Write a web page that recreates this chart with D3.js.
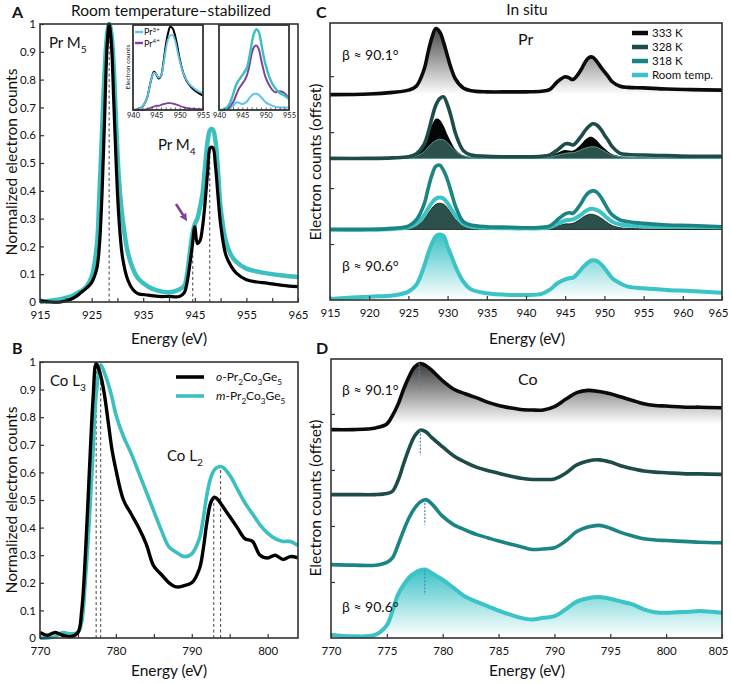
<!DOCTYPE html>
<html>
<head>
<meta charset="utf-8">
<script src="https://cdn.jsdelivr.net/npm/d3@7"></script>
<style>
body { margin: 0; background: #fff; }
svg text { font-family: Lato, "Open Sans", sans-serif; fill: #111; }
</style>
</head>
<body>
<script>

// ================================================================================================
// Data

// Panel A: Pr M5,4 edge, room temperature stabilized phases
var aE = [915, 917, 919, 921, 922, 923, 924, 925, 926, 926.5, 927, 927.5, 928, 928.4, 928.8, 929.3, 929.8, 930.3, 931, 932,
    933, 934, 936, 938, 940, 942, 943, 943.5, 944, 944.5, 945, 945.5, 946, 946.5, 947, 947.5, 948, 948.5, 949, 949.5,
    950, 951, 952, 953, 955, 957, 959, 962, 965];
var aOrtho = [0.005, 0, 0, 0.01, 0.02, 0.035, 0.05, 0.07, 0.12, 0.2, 0.38, 0.65, 0.92, 1.0, 0.94, 0.72, 0.48, 0.3, 0.16, 0.08,
    0.045, 0.03, 0.025, 0.02, 0.02, 0.02, 0.035, 0.07, 0.13, 0.2, 0.27, 0.21, 0.22, 0.27, 0.36, 0.47, 0.555, 0.555, 0.49, 0.38,
    0.28, 0.17, 0.13, 0.105, 0.08, 0.072, 0.068, 0.06, 0.055];
var aMono = [0, 0.005, 0.01, 0.02, 0.03, 0.04, 0.055, 0.09, 0.2, 0.38, 0.6, 0.82, 0.96, 1.0, 0.97, 0.84, 0.62, 0.44, 0.3, 0.18,
    0.12, 0.085, 0.055, 0.04, 0.035, 0.045, 0.06, 0.1, 0.17, 0.24, 0.28, 0.3, 0.34, 0.39, 0.49, 0.58, 0.62, 0.62, 0.58, 0.47,
    0.34, 0.22, 0.17, 0.145, 0.12, 0.11, 0.103, 0.095, 0.09];
var aMarkE = [928.4, 944.6, 947.9];
var aMarkV = [1.0, 0.2, 0.555];
var aTicks = [915, 920, 925, 930, 935, 940, 945, 950, 955, 960, 965];
var aLabels = [915, 925, 935, 945, 955, 965];

// Panel A insets
var iE = [940, 941, 942, 943, 943.5, 944, 944.5, 945, 945.5, 946, 946.5, 947, 947.5, 948, 948.5, 949, 949.5, 950, 951, 952,
    953, 954, 955];
var i1Ortho = [0, 0.01, 0.04, 0.14, 0.26, 0.38, 0.45, 0.42, 0.37, 0.4, 0.55, 0.75, 0.9, 0.98, 0.96, 0.88, 0.75, 0.6, 0.4, 0.3,
    0.24, 0.2, 0.17];
var i1Pr3 = [0, 0.01, 0.04, 0.14, 0.26, 0.38, 0.44, 0.42, 0.38, 0.4, 0.53, 0.7, 0.83, 0.88, 0.88, 0.82, 0.7, 0.58, 0.4, 0.31,
    0.26, 0.22, 0.2];
var i1Pr4 = [0, 0, 0, 0.01, 0.02, 0.03, 0.04, 0.05, 0.05, 0.06, 0.07, 0.075, 0.08, 0.08, 0.075, 0.07, 0.06, 0.05, 0.03, 0.02,
    0.015, 0.01, 0.01];
var i2Mono = [0, 0.005, 0.05, 0.18, 0.27, 0.33, 0.37, 0.41, 0.45, 0.5, 0.62, 0.78, 0.9, 0.95, 0.92, 0.8, 0.65, 0.53, 0.36, 0.26,
    0.2, 0.17, 0.13];
var i2Pr4 = [0, 0, 0.02, 0.09, 0.15, 0.22, 0.27, 0.31, 0.35, 0.41, 0.52, 0.66, 0.74, 0.76, 0.72, 0.6, 0.48, 0.38, 0.27, 0.21,
    0.22, 0.2, 0.13];
var i2Pr3 = [0, 0, 0.01, 0.05, 0.08, 0.09, 0.08, 0.07, 0.08, 0.1, 0.14, 0.17, 0.19, 0.19, 0.18, 0.15, 0.12, 0.09, 0.06, 0.04,
    0.03, 0.03, 0.03];
var iLabels = [940, 945, 950, 955];

// Panel B: Co L3,2 edge
var bE = [770, 771, 772, 773, 774, 775, 775.5, 776, 776.5, 777, 777.4, 778, 778.5, 779, 779.5, 780, 781, 782, 783, 784,
    785, 786, 787, 788, 789, 790, 791, 791.5, 792, 792.5, 793, 793.5, 794, 795, 796, 797, 798, 799, 800, 801,
    802, 803, 804];
var bOrtho = [0.02, 0.01, 0.02, 0.01, 0.005, 0.02, 0.1, 0.31, 0.6, 0.87, 0.995, 0.95, 0.88, 0.78, 0.68, 0.61, 0.5, 0.45, 0.4, 0.34,
    0.26, 0.23, 0.2, 0.185, 0.19, 0.2, 0.25, 0.32, 0.42, 0.49, 0.51, 0.5, 0.48, 0.44, 0.4, 0.36, 0.35, 0.3, 0.29, 0.3,
    0.285, 0.295, 0.29];
var bMono = [0, 0, 0.005, 0.02, 0.015, 0.02, 0.06, 0.22, 0.43, 0.68, 0.88, 0.99, 0.96, 0.92, 0.87, 0.81, 0.73, 0.67, 0.6, 0.53,
    0.46, 0.39, 0.33, 0.31, 0.295, 0.305, 0.36, 0.43, 0.52, 0.58, 0.61, 0.62, 0.62, 0.59, 0.54, 0.49, 0.45, 0.41, 0.38, 0.36,
    0.35, 0.35, 0.335];
var bMarkE = [777.4, 778.0, 792.9, 793.8];
var bMarkV = [0.995, 0.99, 0.51, 0.62];
var bTicks = [770, 775, 780, 785, 790, 795, 800];
var bLabels = [770, 780, 790, 800];

// Panel C: in situ Pr edge, one trace per temperature (height above its own offset)
var cE = [915, 920, 923, 925, 926, 927, 927.5, 928, 928.5, 929, 929.5, 930, 930.5, 931, 932, 933, 935, 938, 940, 942,
    943, 944, 945, 945.5, 946, 947, 947.5, 948, 948.5, 949, 949.5, 950, 950.5, 951, 952, 953, 955, 958, 961, 965];
var c333 = [0, 0.01, 0.04, 0.08, 0.15, 0.45, 0.75, 1.02, 1.18, 1.12, 0.93, 0.68, 0.45, 0.28, 0.12, 0.07, 0.05, 0.05, 0.05, 0.06,
    0.09, 0.23, 0.32, 0.3, 0.27, 0.44, 0.57, 0.66, 0.67, 0.6, 0.5, 0.41, 0.32, 0.23, 0.15, 0.13, 0.12, 0.1, 0.09, 0.08];
var c328 = [0, 0, 0.01, 0.03, 0.08, 0.25, 0.45, 0.72, 0.95, 1.07, 1.1, 0.95, 0.72, 0.45, 0.14, 0.06, 0.04, 0.03, 0.03, 0.04,
    0.06, 0.15, 0.26, 0.26, 0.24, 0.39, 0.49, 0.57, 0.62, 0.6, 0.53, 0.42, 0.32, 0.21, 0.09, 0.07, 0.06, 0.05, 0.04, 0.04];
var c318 = [0, 0, 0.02, 0.06, 0.17, 0.45, 0.72, 0.97, 1.13, 1.15, 1.05, 0.88, 0.65, 0.42, 0.14, 0.08, 0.05, 0.04, 0.03, 0.04,
    0.06, 0.17, 0.28, 0.3, 0.29, 0.46, 0.58, 0.66, 0.69, 0.67, 0.59, 0.47, 0.35, 0.26, 0.17, 0.14, 0.11, 0.08, 0.07, 0.05];
var cRoom = [0, 0.04, 0.06, 0.13, 0.25, 0.58, 0.8, 0.99, 1.12, 1.15, 1.12, 0.93, 0.76, 0.58, 0.31, 0.17, 0.1, 0.07, 0.07, 0.09,
    0.16, 0.28, 0.35, 0.37, 0.38, 0.52, 0.6, 0.66, 0.69, 0.68, 0.63, 0.55, 0.46, 0.37, 0.28, 0.22, 0.19, 0.16, 0.14, 0.11];
// comparison fills inside the 328 K and 318 K traces
var c328Under333 = [0, 0, 0.01, 0.02, 0.06, 0.22, 0.4, 0.6, 0.71, 0.69, 0.58, 0.42, 0.28, 0.16, 0.05, 0.02, 0.01, 0.01, 0.01, 0.01,
    0.03, 0.1, 0.15, 0.14, 0.14, 0.25, 0.33, 0.38, 0.38, 0.33, 0.25, 0.18, 0.12, 0.08, 0.04, 0.03, 0.02, 0.01, 0.01, 0.01];
var c328Under318 = [0, 0, 0, 0.01, 0.04, 0.12, 0.2, 0.27, 0.32, 0.34, 0.33, 0.28, 0.2, 0.13, 0.05, 0.02, 0.01, 0.01, 0.01, 0.01,
    0.02, 0.06, 0.09, 0.1, 0.1, 0.15, 0.18, 0.2, 0.21, 0.2, 0.17, 0.13, 0.09, 0.06, 0.03, 0.02, 0.01, 0.01, 0.01, 0.01];
var c318UnderRoom = [0, 0, 0.01, 0.04, 0.1, 0.25, 0.37, 0.48, 0.55, 0.57, 0.55, 0.47, 0.36, 0.25, 0.1, 0.05, 0.03, 0.02, 0.02, 0.02,
    0.04, 0.1, 0.16, 0.17, 0.18, 0.26, 0.32, 0.36, 0.37, 0.35, 0.31, 0.25, 0.19, 0.14, 0.09, 0.07, 0.06, 0.05, 0.05, 0.04];
var c318UnderFill = [0, 0, 0.01, 0.02, 0.06, 0.18, 0.28, 0.38, 0.45, 0.47, 0.45, 0.38, 0.28, 0.18, 0.06, 0.03, 0.01, 0.01, 0.01, 0.01,
    0.02, 0.06, 0.1, 0.1, 0.11, 0.19, 0.24, 0.27, 0.27, 0.25, 0.21, 0.16, 0.11, 0.07, 0.03, 0.02, 0.01, 0.01, 0.01, 0.01];
var cOffsets = [3.67, 2.53, 1.26, 0.02];
var cTicks = [915, 920, 925, 930, 935, 940, 945, 950, 955, 960, 965];

// Panel D: in situ Co edge
var dE = [770, 772, 774, 775, 775.5, 776, 776.5, 777, 777.5, 778, 778.5, 779, 780, 781, 782, 783, 784, 785, 786, 787,
    788, 789, 790, 791, 792, 793, 794, 795, 796, 797, 798, 799, 800, 802, 803, 805];
var d333 = [0, 0, 0.03, 0.1, 0.25, 0.45, 0.72, 0.95, 1.12, 1.18, 1.14, 1.06, 0.87, 0.72, 0.64, 0.57, 0.49, 0.43, 0.39, 0.36,
    0.35, 0.35, 0.41, 0.54, 0.66, 0.7, 0.68, 0.64, 0.58, 0.52, 0.46, 0.43, 0.42, 0.4, 0.4, 0.39];
var d328 = [0, 0, 0, 0.02, 0.06, 0.25, 0.55, 0.83, 1.05, 1.15, 1.12, 1.02, 0.85, 0.69, 0.58, 0.49, 0.43, 0.38, 0.33, 0.29,
    0.27, 0.27, 0.28, 0.38, 0.53, 0.6, 0.62, 0.58, 0.51, 0.46, 0.42, 0.4, 0.39, 0.37, 0.37, 0.36];
var d318 = [0.01, 0, 0, 0.05, 0.13, 0.36, 0.62, 0.85, 1.02, 1.13, 1.17, 1.1, 0.87, 0.72, 0.63, 0.55, 0.49, 0.43, 0.38, 0.33,
    0.28, 0.29, 0.31, 0.43, 0.6, 0.68, 0.71, 0.66, 0.58, 0.52, 0.47, 0.45, 0.44, 0.42, 0.41, 0.4];
var dRoom = [0.03, 0, 0.03, 0.2, 0.45, 0.75, 0.92, 1.05, 1.13, 1.18, 1.19, 1.13, 1.01, 0.86, 0.71, 0.62, 0.54, 0.46, 0.39, 0.33,
    0.3, 0.33, 0.36, 0.48, 0.62, 0.68, 0.7, 0.67, 0.62, 0.57, 0.48, 0.43, 0.42, 0.44, 0.45, 0.42];
var dOffsets = [3.72, 2.56, 1.30, 0.03];
var dMarkE = [777.9, 778.0, 778.4, 778.4];
var dMarkTop = [1.18, 1.15, 1.17, 1.19];
var dTicks = [770, 775, 780, 785, 790, 795, 800, 805];

var tempNames = ['333 K', '328 K', '318 K', 'Room temp.'];
var tempColors = ['#0b0b0b', '#1d4c4a', '#1b8583', '#3cc3c6'];

// ================================================================================================
// Drawing helpers

var svg = d3.select('body').append('svg').attr('width', 731).attr('height', 684);
var defs = svg.append('defs');
var smooth = d3.curveCatmullRom.alpha(0.5);

// path for a trace, optionally lifted by an offset
function trace(x, y, energies, values, offset) {
    offset = offset || 0;
    return d3.line().curve(smooth)
        .x(function (d, i) { return x(energies[i]); })
        .y(function (d) { return y(d + offset); })(values);
}

function trace_area(x, y, energies, values, offset) {
    return d3.area().curve(smooth)
        .x(function (d, i) { return x(energies[i]); })
        .y0(y(offset))
        .y1(function (d) { return y(d + offset); })(values);
}

// vertical gradient from a colour at y1 to white at y2
function gradient(id, color, y1, y2) {
    var g = defs.append('linearGradient').attr('id', id)
        .attr('gradientUnits', 'userSpaceOnUse')
        .attr('x1', 0).attr('x2', 0).attr('y1', y1).attr('y2', y2);
    g.append('stop').attr('offset', 0).attr('stop-color', color);
    g.append('stop').attr('offset', 1).attr('stop-color', '#fff');
    return 'url(#' + id + ')';
}

function clip(id, x, y) {
    defs.append('clipPath').attr('id', id).append('rect')
        .attr('x', x.range()[0]).attr('y', y.range()[1])
        .attr('width', x.range()[1] - x.range()[0])
        .attr('height', y.range()[0] - y.range()[1]);
    return 'url(#' + id + ')';
}

function frame(x, y, width) {
    svg.append('rect')
        .attr('x', x.range()[0]).attr('y', y.range()[1])
        .attr('width', x.range()[1] - x.range()[0])
        .attr('height', y.range()[0] - y.range()[1])
        .attr('fill', 'none').attr('stroke', '#333').attr('stroke-width', width || 1.6);
}

function style_axis(g, size) {
    g.select('.domain').remove();
    g.attr('font-family', null).attr('font-size', size);
    g.selectAll('line').attr('stroke', '#333').attr('stroke-width', 1.2);
    g.selectAll('text').attr('fill', '#111');
}

function bottom_axis(x, y, ticks, labels, size, len, pad) {
    var g = svg.append('g').attr('transform', 'translate(0,' + y.range()[0] + ')')
        .call(d3.axisBottom(x).tickValues(ticks).tickSize(-len).tickPadding(pad)
            .tickFormat(function (d) { return labels.indexOf(d) >= 0 ? d : ''; }));
    style_axis(g, size);
    // keep the last label inside the page
    if (x.range()[1] > 715) {
        g.selectAll('text').filter(function (d) { return d === x.domain()[1]; }).attr('dx', -4);
    }
    return g;
}

function left_axis(x, y, ticks, fmt) {
    var g = svg.append('g').attr('transform', 'translate(' + x.range()[0] + ',0)')
        .call(d3.axisLeft(y).tickValues(ticks).tickSize(-4).tickPadding(4).tickFormat(fmt));
    style_axis(g, 11.5);
    return g;
}

// text with sub / superscript parts: [['Pr M'], ['5', 'sub']]
function rich(x, y, parts, size, extra) {
    var t = svg.append('text').attr('x', x).attr('y', y).attr('font-size', size);
    var shift = 0;
    parts.forEach(function (p) {
        var want = p[1] === 'sub' ? size * 0.3 : p[1] === 'sup' ? -size * 0.38 : 0;
        var s = t.append('tspan').text(p[0]).attr('dy', want - shift);
        if (p[1] === 'sub' || p[1] === 'sup') { s.attr('font-size', size * 0.68); }
        if (p[1] === 'it') { s.attr('font-style', 'italic'); }
        shift = want;
    });
    if (extra) { extra(t); }
    return t;
}

function label(x, y, txt, size, anchor, rotate) {
    var t = svg.append('text').attr('font-size', size).attr('text-anchor', anchor || 'start').text(txt);
    if (rotate) {
        t.attr('transform', 'translate(' + x + ',' + y + ') rotate(-90)');
    } else {
        t.attr('x', x).attr('y', y);
    }
    return t;
}

function dashed(x, y, es, vs, color, dash) {
    svg.append('g').selectAll('line').data(es).enter().append('line')
        .attr('x1', function (d) { return x(d); }).attr('x2', function (d) { return x(d); })
        .attr('y1', y(0)).attr('y2', function (d, i) { return y(vs[i]); })
        .attr('stroke', color).attr('stroke-width', 1).attr('stroke-dasharray', dash);
}

var yFmt = function (d) { return d === 0 ? '0' : d === 1 ? '1' : d3.format('.1f')(d); };
var yTenths = d3.range(0, 11).map(function (v) { return v / 10; });

// ================================================================================================
// Panel A

var ax = d3.scaleLinear().domain([915, 965]).range([40, 298]);
var ay = d3.scaleLinear().domain([0, 1]).range([302, 24]);

dashed(ax, ay, aMarkE, aMarkV, '#444', '3,2.5');
svg.append('path').attr('d', trace(ax, ay, aE, aMono))
    .attr('fill', 'none').attr('stroke', '#3bbfbf').attr('stroke-width', 4.5).attr('stroke-linejoin', 'round');
svg.append('path').attr('d', trace(ax, ay, aE, aOrtho))
    .attr('fill', 'none').attr('stroke', '#000').attr('stroke-width', 3.2).attr('stroke-linejoin', 'round');
frame(ax, ay);
bottom_axis(ax, ay, aTicks, aLabels, 11.5, 4, 9);
left_axis(ax, ay, yTenths, yFmt);

rich(49, 48, [['Pr M'], ['5', 'sub']], 15);
rich(158, 150, [['Pr M'], ['4', 'sub']], 15);

// arrow at the Pr4+ shoulder
defs.append('marker').attr('id', 'arrow').attr('viewBox', '0 0 10 10')
    .attr('refX', 5).attr('refY', 5).attr('markerWidth', 3).attr('markerHeight', 3).attr('orient', 'auto')
    .append('path').attr('d', 'M0,0 L10,5 L0,10 z').attr('fill', '#7d449b');
svg.append('line').attr('x1', 176).attr('y1', 204).attr('x2', 185).attr('y2', 218)
    .attr('stroke', '#7d449b').attr('stroke-width', 2.6).attr('marker-end', 'url(#arrow)');

// insets
function inset(x0, x1, series, colors, widths) {
    var x = d3.scaleLinear().domain([940, 955]).range([x0, x1]);
    var y = d3.scaleLinear().domain([0, 1]).range([110, 25]);
    svg.append('rect').attr('x', x0).attr('y', 25).attr('width', x1 - x0).attr('height', 85).attr('fill', '#fff');
    series.forEach(function (s, i) {
        svg.append('path').attr('d', trace(x, y, iE, s))
            .attr('fill', 'none').attr('stroke', colors[i]).attr('stroke-width', widths[i]);
    });
    frame(x, y, 1.8);
    var g = bottom_axis(x, y, d3.range(940, 956), iLabels, 7.5, 2.5, 3);
    g.selectAll('line').attr('stroke-width', 0.8);
    return x;
}
inset(133, 203, [i1Ortho, i1Pr3, i1Pr4], ['#000', '#5cc6f0', '#7d449b'], [2, 1.8, 1.8]);
inset(219, 289, [i2Pr3, i2Pr4, i2Mono], ['#5cc6f0', '#7d449b', '#3bbfbf'], [2, 2, 2.4]);
label(130, 67, 'Electron counts', 6.5, 'middle', true);
svg.append('line').attr('x1', 135).attr('x2', 143).attr('y1', 32).attr('y2', 32).attr('stroke', '#5cc6f0').attr('stroke-width', 2.4);
svg.append('line').attr('x1', 135).attr('x2', 143).attr('y1', 43).attr('y2', 43).attr('stroke', '#7d449b').attr('stroke-width', 2.4);
rich(144, 35, [['Pr'], ['3+', 'sup']], 9, function (t) { t.attr('dy', 1); });
rich(144, 46.5, [['Pr'], ['4+', 'sup']], 9, function (t) { t.attr('dy', 1); });

// ================================================================================================
// Panel B

var bx = d3.scaleLinear().domain([770, 804]).range([40, 298]);
var by = d3.scaleLinear().domain([0, 1]).range([638, 362]);

dashed(bx, by, bMarkE, bMarkV, '#444', '3,2.5');
svg.append('path').attr('d', trace(bx, by, bE, bMono))
    .attr('fill', 'none').attr('stroke', '#3bbfbf').attr('stroke-width', 3.6).attr('stroke-linejoin', 'round');
svg.append('path').attr('d', trace(bx, by, bE, bOrtho))
    .attr('fill', 'none').attr('stroke', '#000').attr('stroke-width', 3.4).attr('stroke-linejoin', 'round');
frame(bx, by);
bottom_axis(bx, by, bTicks, bLabels, 11.5, 4, 9);
left_axis(bx, by, yTenths, yFmt);

rich(50, 386, [['Co L'], ['3', 'sub']], 15);
rich(167, 461, [['Co L'], ['2', 'sub']], 15);

svg.append('line').attr('x1', 176).attr('x2', 204).attr('y1', 377).attr('y2', 377).attr('stroke', '#000').attr('stroke-width', 3.6);
svg.append('line').attr('x1', 176).attr('x2', 204).attr('y1', 396).attr('y2', 396).attr('stroke', '#3bbfbf').attr('stroke-width', 3.6);
rich(216, 381, [['o', 'it'], ['-Pr'], ['2', 'sub'], ['Co'], ['3', 'sub'], ['Ge'], ['5', 'sub']], 12);
rich(216, 400, [['m', 'it'], ['-Pr'], ['2', 'sub'], ['Co'], ['3', 'sub'], ['Ge'], ['5', 'sub']], 12);

// ================================================================================================
// Panel C

var cx = d3.scaleLinear().domain([915, 965]).range([330, 722]);
var cy = d3.scaleLinear().domain([0, 4.95]).range([300, 23]);
var cClip = svg.append('g').attr('clip-path', clip('clipC', cx, cy));
var cSeries = [c333, c328, c318, cRoom];

// 333 K with grey gradient
cClip.append('path').attr('d', trace_area(cx, cy, cE, c333, cOffsets[0]))
    .attr('fill', gradient('gC0', '#4a4a4a', cy(cOffsets[0] + d3.max(c333)), cy(cOffsets[0])));
// 328 K comparison fills
cClip.append('path').attr('d', trace_area(cx, cy, cE, c328Under333, cOffsets[1])).attr('fill', '#050505');
cClip.append('path').attr('d', trace_area(cx, cy, cE, c328Under318, cOffsets[1]))
    .attr('fill', '#2c504c').attr('stroke', '#4f9f99').attr('stroke-width', 1);
// 318 K comparison fills
cClip.append('path').attr('d', trace_area(cx, cy, cE, c318UnderFill, cOffsets[2]))
    .attr('fill', '#2c504c').attr('stroke', '#111').attr('stroke-width', 0.8);
cClip.append('path').attr('d', trace(cx, cy, cE, c318UnderRoom, cOffsets[2]))
    .attr('fill', 'none').attr('stroke', '#3cc3c6').attr('stroke-width', 4);
// room temp with teal gradient
cClip.append('path').attr('d', trace_area(cx, cy, cE, cRoom, cOffsets[3]))
    .attr('fill', gradient('gC3', '#3cc3c6', cy(cOffsets[3] + d3.max(cRoom)), cy(cOffsets[3])));

cSeries.forEach(function (s, i) {
    cClip.append('path').attr('d', trace(cx, cy, cE, s, cOffsets[i]))
        .attr('fill', 'none').attr('stroke', tempColors[i]).attr('stroke-width', i === 3 ? 4 : 3.6)
        .attr('stroke-linejoin', 'round');
});
frame(cx, cy);
bottom_axis(cx, cy, cTicks, cTicks, 11.5, 4, 9);
left_axis(cx, cy, [1, 2, 3, 4], function () { return ''; });

label(518, 45, 'Pr', 16);
label(342, 60, 'β ≈ 90.1°', 14);
label(342, 271, 'β ≈ 90.6°', 14);

var legend = svg.append('g').selectAll('g').data(tempNames).enter().append('g')
    .attr('transform', function (d, i) { return 'translate(632,' + (33 + i * 14) + ')'; });
legend.append('line').attr('x1', 0).attr('x2', 16).attr('y1', 0).attr('y2', 0)
    .attr('stroke', function (d, i) { return tempColors[i]; }).attr('stroke-width', 4.5);
legend.append('text').attr('x', 20).attr('y', 4).attr('font-size', 11.5).text(function (d) { return d; });

// ================================================================================================
// Panel D

var dx = d3.scaleLinear().domain([770, 805]).range([331, 722]);
var dy = d3.scaleLinear().domain([0, 4.98]).range([638, 359]);
var dClip = svg.append('g').attr('clip-path', clip('clipD', dx, dy));
var dSeries = [d333, d328, d318, dRoom];

dClip.append('path').attr('d', trace_area(dx, dy, dE, d333, dOffsets[0]))
    .attr('fill', gradient('gD0', '#3a3a3a', dy(dOffsets[0] + d3.max(d333)), dy(dOffsets[0] + 0.1)));
dClip.append('path').attr('d', trace_area(dx, dy, dE, dRoom, dOffsets[3]))
    .attr('fill', gradient('gD3', '#3cc3c6', dy(dOffsets[3] + d3.max(dRoom)), dy(dOffsets[3])));

dSeries.forEach(function (s, i) {
    dClip.append('path').attr('d', trace(dx, dy, dE, s, dOffsets[i]))
        .attr('fill', 'none').attr('stroke', tempColors[i]).attr('stroke-width', i === 3 ? 4 : 3.6)
        .attr('stroke-linejoin', 'round');
});
// peak position markers
dClip.append('g').selectAll('line').data(dMarkE).enter().append('line')
    .attr('x1', function (d) { return dx(d); }).attr('x2', function (d) { return dx(d); })
    .attr('y1', function (d, i) { return dy(dOffsets[i] + dMarkTop[i]); })
    .attr('y2', function (d, i) { return dy(dOffsets[i] + dMarkTop[i] - 0.45); })
    .attr('stroke', '#4a86c5').attr('stroke-width', 1.2).attr('stroke-dasharray', '2,1.5');
frame(dx, dy);
bottom_axis(dx, dy, dTicks, dTicks, 11.5, 4, 9);
left_axis(dx, dy, [1, 2, 3, 4], function () { return ''; });

label(518, 385, 'Co', 16);
label(342, 395, 'β ≈ 90.1°', 14);
label(342, 612, 'β ≈ 90.6°', 14);

// ================================================================================================
// Titles and axis titles

label(171, 16, 'Room temperature–stabilized', 15.5, 'middle');
label(527, 15, 'In situ', 15.5, 'middle');
label(169, 344, 'Energy (eV)', 15.5, 'middle');
label(527, 344, 'Energy (eV)', 15.5, 'middle');
label(169, 676, 'Energy (eV)', 15.5, 'middle');
label(527, 676, 'Energy (eV)', 15.5, 'middle');
label(17, 162, 'Normalized electron counts', 15.5, 'middle', true);
label(17, 500, 'Normalized electron counts', 15.5, 'middle', true);
label(321, 162, 'Electron counts (offset)', 15.5, 'middle', true);
label(321, 498, 'Electron counts (offset)', 15.5, 'middle', true);

[['A', 12, 18], ['B', 12, 354], ['C', 316, 18], ['D', 316, 354]].forEach(function (p) {
    label(p[1], p[2], p[0], 16).attr('font-weight', 'bold')
        .attr('font-family', '"Liberation Sans", Arial, sans-serif');
});

</script>
</body>
</html>
